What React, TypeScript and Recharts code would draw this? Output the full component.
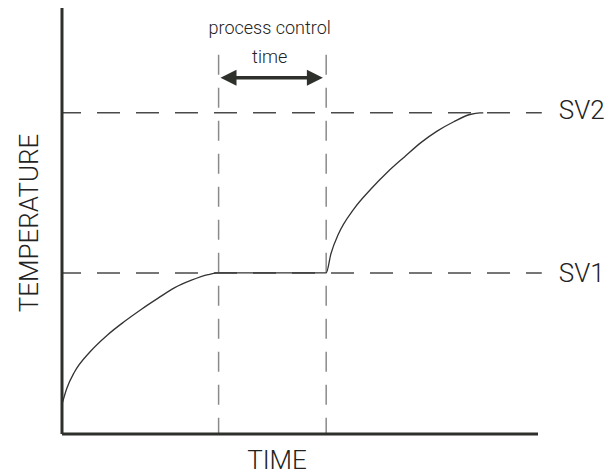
import { ComposedChart, Line, XAxis, YAxis, ReferenceLine, Label } from 'recharts'

// readings (time in % of axis, temperature in % of axis)
const timePoints = [0, 1.0, 2.6, 5.9, 9.5, 13.1, 16.7, 20.2, 23.6, 27.2, 30.7, 32.8, 55.5, 56.5, 58.1, 61.3, 64.9, 68.4, 72.0, 75.4, 78.8, 82.3, 85.7, 87.8, 88.5]
const temperatureValues = [7.0, 10.7, 14.5, 19.3, 23.2, 26.4, 29.3, 31.9, 34.3, 36.1, 37.4, 37.8, 37.8, 42.3, 47.0, 52.8, 57.5, 61.5, 65.1, 68.4, 71.1, 73.3, 75.0, 75.4, 75.4]

const setValues = [37.8, 75.4]
const setLabels = ['SV1', 'SV2']
const setLabelShift = [9, 6]

const controlStart = 32.9
const controlEnd = 55.5
const controlTop = 89.0
const arrowLevel = 83.6
const arrowText = ['process control', 'time']

const xLabel = 'TIME'
const yLabel = 'TEMPERATURE'

const INK = '#2e302b'
const TEXT = '#222'
const FONT = 'Roboto, "Noto Sans", sans-serif'

const data = timePoints.map((t, i) => ({ time: t, temp: temperatureValues[i] }))

function ArrowShape(props: any) {
    const { x1, x2, y1 } = props
    const head = 16
    const half = 8
    const mid = (x1 + x2) / 2
    return (
        <g>
            <line x1={x1 + head - 2} y1={y1} x2={x2 - head + 2} y2={y1} stroke={INK} strokeWidth={3.5} />
            <polygon points={`${x1},${y1} ${x1 + head},${y1 - half} ${x1 + head},${y1 + half}`} fill={INK} />
            <polygon points={`${x2},${y1} ${x2 - head},${y1 - half} ${x2 - head},${y1 + half}`} fill={INK} />
            <text x={mid - 2} y={y1 - 44} textAnchor="middle" fontFamily={FONT} fontWeight={300} fontSize={18} fill={TEXT}>{arrowText[0]}</text>
            <text x={mid - 2} y={y1 - 15} textAnchor="middle" fontFamily={FONT} fontWeight={300} fontSize={18} fill={TEXT}>{arrowText[1]}</text>
        </g>
    )
}

const sideLabel = (text: string, shift: number) => (p: any) => {
    const vb = p.viewBox
    return (
        <text x={vb.x + vb.width + 17} y={vb.y + shift} fontFamily={FONT} fontWeight={300} fontSize={26} fill={TEXT}>{text}</text>
    )
}

export default function App() {
    return (
        <div style={{ position: 'absolute', left: 0, top: 0, background: '#fff' }}>
            <ComposedChart width={606} height={474} data={data} margin={{ top: 8, right: 68, left: 0, bottom: 0 }}>
                <XAxis
                    type="number"
                    dataKey="time"
                    domain={[0, 100]}
                    tick={false}
                    tickLine={false}
                    axisLine={{ stroke: INK, strokeWidth: 3 }}
                    height={40}
                >
                    <Label
                        content={(p: any) => (
                            <text x={p.viewBox.x + 215} y={p.viewBox.y + 35} textAnchor="middle" fontFamily={FONT} fontWeight={300} fontSize={26} fill={TEXT}>{xLabel}</text>
                        )}
                    />
                </XAxis>
                <YAxis
                    type="number"
                    domain={[0, 100]}
                    tick={false}
                    tickLine={false}
                    axisLine={{ stroke: INK, strokeWidth: 3 }}
                    width={62}
                >
                    <Label
                        content={(p: any) => {
                            const cx = 38
                            const cy = p.viewBox.y + p.viewBox.height / 2 + 2
                            return (
                                <text transform={`translate(${cx},${cy}) rotate(-90)`} textAnchor="middle" fontFamily={FONT} fontWeight={300} fontSize={26} fill={TEXT}>{yLabel}</text>
                            )
                        }}
                    />
                </YAxis>

                {setValues.map((v, i) => (
                    <ReferenceLine
                        key={setLabels[i]}
                        segment={[{ x: 0, y: v }, { x: 100.8, y: v }]}
                        stroke="#4a4a4a"
                        strokeWidth={1.5}
                        strokeDasharray="23 16"
                        strokeDashoffset={4}
                        ifOverflow="visible"
                        label={<Label content={sideLabel(setLabels[i], setLabelShift[i])} />}
                    />
                ))}

                {[controlStart, controlEnd].map((x) => (
                    <ReferenceLine
                        key={x}
                        segment={[{ x, y: controlTop }, { x, y: 0 }]}
                        stroke="#8a8a8a"
                        strokeWidth={1.5}
                        strokeDasharray="20 13"
                        ifOverflow="visible"
                    />
                ))}

                <ReferenceLine
                    segment={[{ x: controlStart + 0.4, y: arrowLevel }, { x: controlEnd - 0.7, y: arrowLevel }]}
                    ifOverflow="visible"
                    shape={ArrowShape}
                />

                <Line
                    type="monotone"
                    dataKey="temp"
                    stroke="#333"
                    strokeWidth={1.3}
                    dot={false}
                    isAnimationActive={false}
                />
            </ComposedChart>
        </div>
    )
}
